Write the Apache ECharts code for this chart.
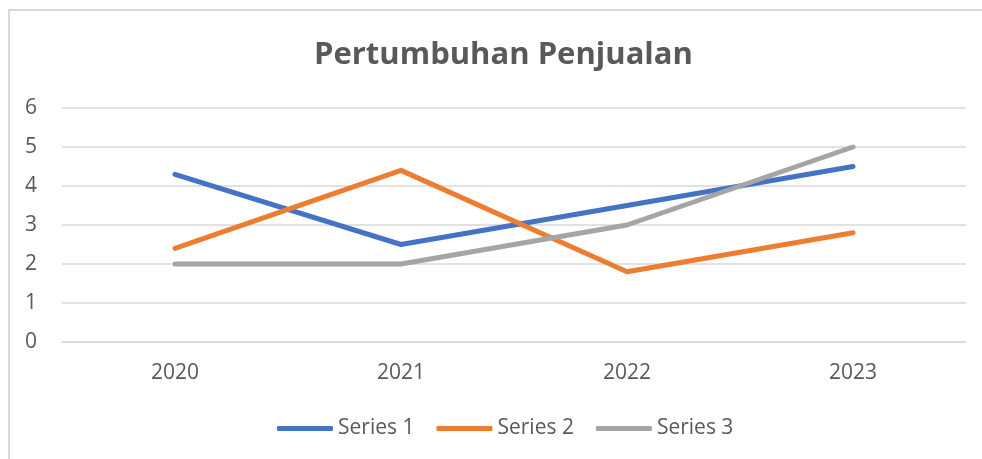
<!DOCTYPE html>
<html>
<head>
<meta charset="utf-8">
<script src="https://cdn.jsdelivr.net/npm/echarts@6/dist/echarts.min.js"></script>
<style>
    html, body { margin: 0; padding: 0; background: #fff; }
    #chart { width: 982px; height: 459px; }
</style>
</head>
<body>
<div id="chart"></div>
<script>
const years = ['2020', '2021', '2022', '2023']
const series1 = [4.3, 2.5, 3.5, 4.5]
const series2 = [2.4, 4.4, 1.8, 2.8]
const series3 = [2, 2, 3, 5]
const yTicks = [0, 1, 2, 3, 4, 5, 6]

const chart = echarts.init(document.getElementById('chart'))
const font = '"Open Sans", sans-serif'

const makeLine = (name, data, color) => ({
    name: name,
    type: 'line',
    data: data,
    symbol: 'none',
    lineStyle: { color: color, width: 5, cap: 'round', join: 'round' },
    itemStyle: { color: color },
})

const option = {
    animation: false,
    title: {
        text: 'Pertumbuhan Penjualan',
        left: 309,
        top: 35,
        textStyle: { fontFamily: font, fontSize: 31, fontWeight: 'bold', color: '#595959' },
    },
    graphic: [
        {
            type: 'rect',
            shape: { x: 9, y: 10, width: 1000, height: 500 },
            style: { fill: 'none', stroke: '#d9d9d9', lineWidth: 2 },
            silent: true,
        },
    ],
    legend: {
        bottom: 15,
        left: 272,
        itemWidth: 56,
        itemHeight: 5,
        itemGap: 22,
        icon: 'roundRect',
        textStyle: { fontFamily: font, fontSize: 21, color: '#595959' },
        data: ['Series 1', 'Series 2', 'Series 3'],
    },
    grid: { left: 62, right: 16, top: 108, bottom: 117 },
    xAxis: {
        type: 'category',
        data: years,
        boundaryGap: true,
        axisTick: { show: false },
        axisLine: { show: true, lineStyle: { color: '#d9d9d9', width: 1.5 } },
        axisLabel: { fontFamily: font, fontSize: 21, color: '#595959', margin: 21 },
    },
    yAxis: {
        type: 'value',
        min: yTicks[0],
        max: yTicks[yTicks.length - 1],
        interval: 1,
        axisLine: { show: false },
        axisTick: { show: false },
        splitLine: { lineStyle: { color: '#d9d9d9', width: 1.5 } },
        axisLabel: { fontFamily: font, fontSize: 21, color: '#595959', margin: 25 },
    },
    series: [
        makeLine('Series 1', series1, '#4472c4'),
        makeLine('Series 2', series2, '#ed7d31'),
        makeLine('Series 3', series3, '#a5a5a5'),
    ],
}
chart.setOption(option)
</script>
</body>
</html>
